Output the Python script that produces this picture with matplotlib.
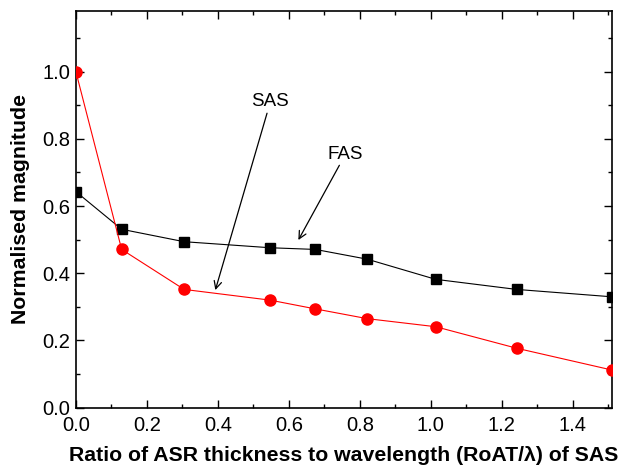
import matplotlib
matplotlib.use('Agg')
import matplotlib.pyplot as plt
from matplotlib.ticker import MultipleLocator

plt.rcParams['font.family'] = ['Liberation Sans', 'DejaVu Sans']

# ratio RoAT/lambda
x_fas = [0.0, 0.129, 0.305, 0.548, 0.675, 0.821, 1.014, 1.242, 1.511]
y_fas = [0.643, 0.531, 0.494, 0.476, 0.471, 0.442, 0.382, 0.352, 0.330]

x_sas = [0.0, 0.129, 0.305, 0.548, 0.675, 0.821, 1.014, 1.242, 1.511]
y_sas = [1.0, 0.471, 0.352, 0.320, 0.294, 0.265, 0.241, 0.177, 0.112]

x_ticks = [0.0, 0.2, 0.4, 0.6, 0.8, 1.0, 1.2, 1.4]
y_ticks = [0.0, 0.2, 0.4, 0.6, 0.8, 1.0]

fig = plt.figure(figsize=(6.22, 4.67), dpi=100)
ax = fig.add_axes([0.122, 0.127, 0.862, 0.849])

ax.plot(x_fas, y_fas, color='black', lw=0.8, marker='s', ms=7, zorder=3)
ax.plot(x_sas, y_sas, color='red', lw=0.8, marker='o', ms=8, zorder=3)

ax.set_xlim(0, 1.511)
ax.set_ylim(0, 1.18)
ax.set_xticks(x_ticks)
ax.set_yticks(y_ticks)
ax.xaxis.set_minor_locator(MultipleLocator(0.1))
ax.yaxis.set_minor_locator(MultipleLocator(0.1))
ax.tick_params(which='both', direction='in', top=True, right=True,
               labeltop=False, labelright=False, labelsize=14.5, width=1)
ax.tick_params(which='major', length=6)
ax.tick_params(which='minor', length=3)
ax.tick_params(axis='x', which='major', pad=6)
ax.tick_params(axis='y', which='major', pad=4)
for s in ax.spines.values():
    s.set_linewidth(1.2)

ax.set_xlabel('Ratio of ASR thickness to wavelength (RoAT/\u03bb) of SAS',
              fontsize=15.3, fontweight='bold', labelpad=8)
ax.set_ylabel('Normalised magnitude', fontsize=15.3, fontweight='bold',
              labelpad=9)

arrow = dict(arrowstyle='->', color='black', lw=0.9, shrinkA=0, shrinkB=0)
ax.annotate('SAS', xy=(0.393, 0.350), xytext=(0.548, 0.91), fontsize=13.5,
            ha='center', va='center', arrowprops=arrow)
ax.annotate('FAS', xy=(0.627, 0.499), xytext=(0.76, 0.755), fontsize=13.5,
            ha='center', va='center', arrowprops=arrow)

fig.savefig('out.png', dpi=100)
